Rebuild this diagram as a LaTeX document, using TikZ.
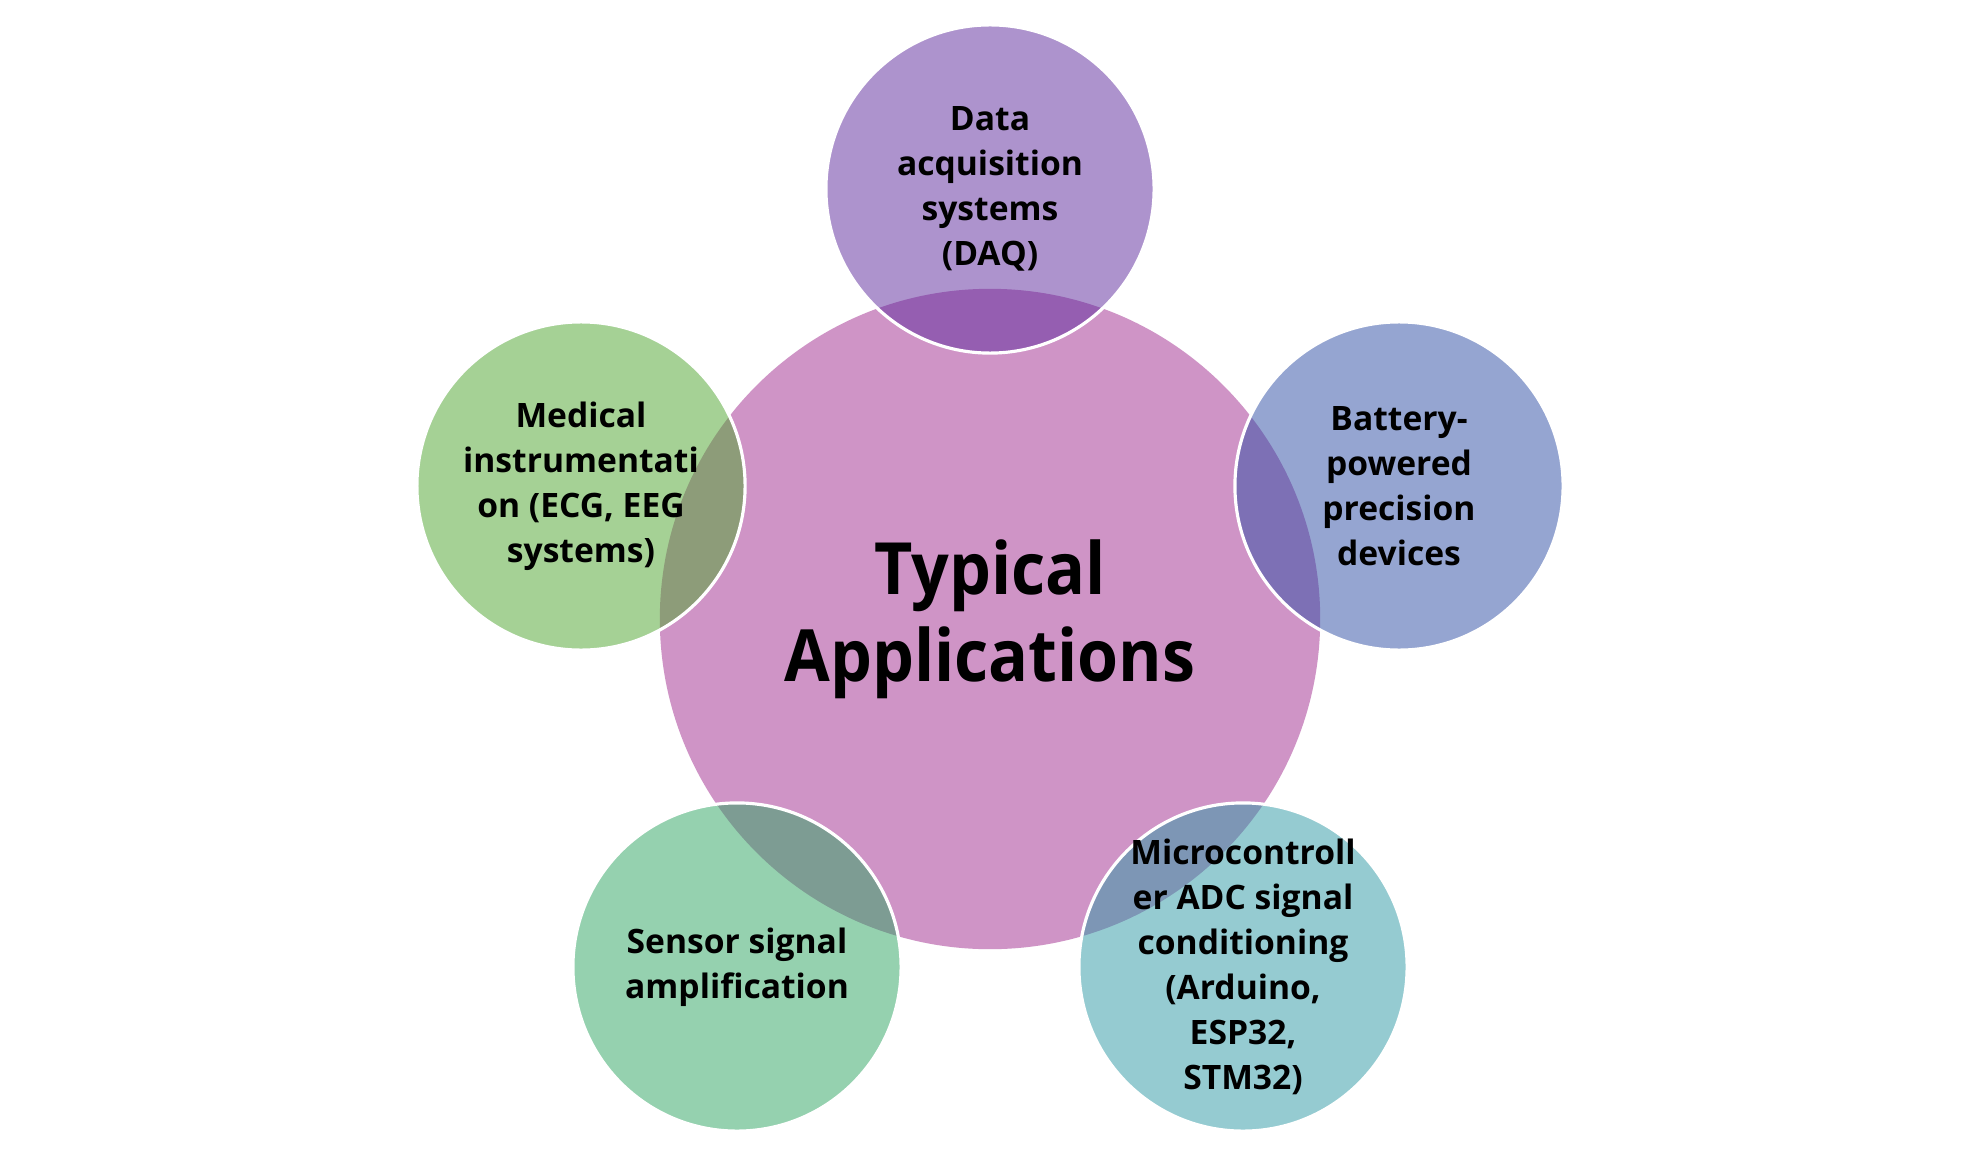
\documentclass[tikz,border=0pt]{standalone}
\usepackage{fontspec}
\setmainfont{Open Sans}
\newfontfamily\centralfont[FakeStretch=0.92]{Open Sans}
\definecolor{cpink}{RGB}{207,148,198}
\definecolor{cpurple}{RGB}{93,41,157}
\definecolor{cgreen}{RGB}{77,165,45}
\definecolor{cblue}{RGB}{45,77,165}
\definecolor{cmint}{RGB}{45,165,97}
\definecolor{cteal}{RGB}{45,153,165}
\begin{document}
\begin{tikzpicture}[x=0.01cm,y=-0.01cm,
  outer/.style={circle, minimum size=3.28cm, inner sep=0pt, fill=#1, fill opacity=0.5, draw=white, line width=0.9pt},
  lbl/.style={align=center, text=black, font=\bfseries\fontsize{9.56}{12.8}\selectfont, inner sep=0pt},
  hubstyle/.style={circle, fill=cpink, minimum size=6.6cm, inner sep=0pt},
  hublbl/.style={align=center, text=black, font=\centralfont\bfseries\fontsize{20.5}{24.75}\selectfont, inner sep=0pt}]
\useasboundingbox (0,0) rectangle (1980,1155);
\fill[white] (0,0) rectangle (1980,1155);
\node[hubstyle] (hub) at (990,619) {};
\node[outer=cpurple] (c1) at (990,189) {};
\node[outer=cblue] (c2) at (1399,486) {};
\node[outer=cteal] (c3) at (1243,967) {};
\node[outer=cmint] (c4) at (737,967) {};
\node[outer=cgreen] (c5) at (581,486) {};
\node[hublbl] (thub) at (hub.center) {Typical\\Applications};
\node[lbl] (t1) at (c1.center) {Data\\acquisition\\systems\\(DAQ)};
\node[lbl] (t2) at (c2.center) {Battery-\\powered\\precision\\devices};
\node[lbl] (t3) at (c3.center) {Microcontroll\\er ADC signal\\conditioning\\(Arduino,\\ESP32,\\STM32)};
\node[lbl] (t4) at (c4.center) {Sensor signal\\amplification};
\node[lbl] (t5) at (c5.center) {Medical\\instrumentati\\on (ECG, EEG\\systems)};
\end{tikzpicture}
\end{document}
